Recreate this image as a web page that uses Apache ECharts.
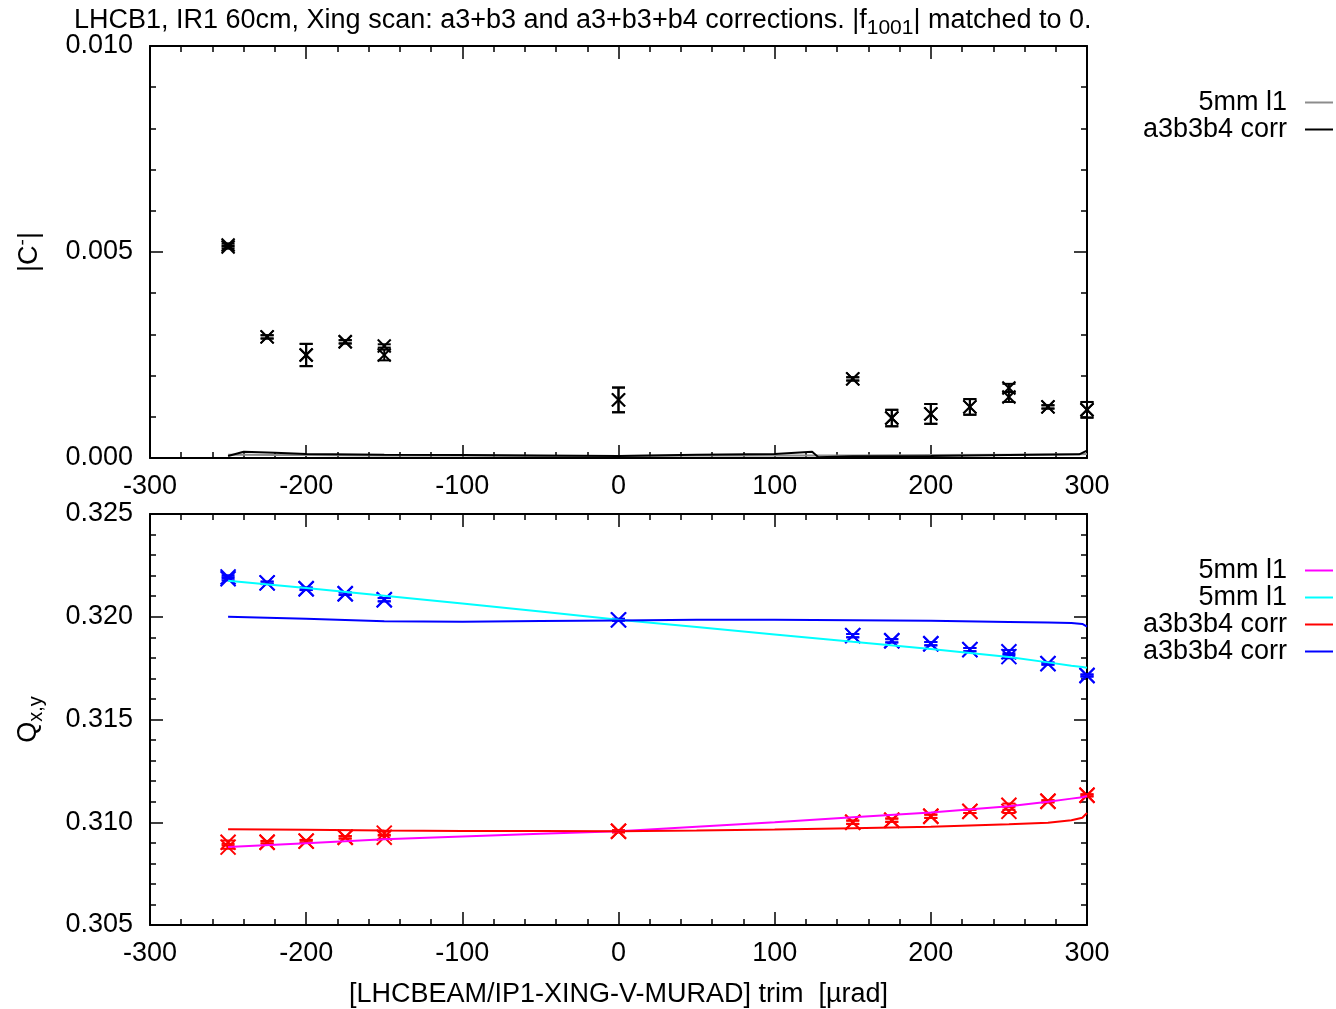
<!DOCTYPE html>
<html>
<head>
<meta charset="utf-8">
<script src="https://cdn.jsdelivr.net/npm/echarts@6/dist/echarts.min.js"></script>
<style>
  html, body { margin: 0; padding: 0; background: #fff; }
  #chart { width: 1336px; height: 1009px; }
</style>
</head>
<body>
<div id="chart"></div>
<script>
// trim values where the coupling / tunes were measured
const trims = [-250, -225, -200, -175, -150, 0, 150, 175, 200, 225, 250, 275, 300];

// |C-| measurements (two overlapping sets) and their errors
const cminA    = [0.00517, 0.00294, 0.00250, 0.00282, 0.00272, 0.00141, 0.00192, 0.00097, 0.00107, 0.00124, 0.00170, 0.00124, 0.00117];
const cminB    = [0.00512, 0.00294, 0.00250, 0.00282, 0.00250, 0.00141, 0.00192, 0.00097, 0.00107, 0.00124, 0.00148, 0.00124, 0.00117];
const cminErrA = [0.00004, 0.00004, 0.00027, 0.00004, 0.00004, 0.00030, 0.00004, 0.00020, 0.00024, 0.00019, 0.00010, 0.00004, 0.00019];
const cminErrB = [0.00004, 0.00004, 0.00027, 0.00004, 0.00013, 0.00030, 0.00004, 0.00020, 0.00024, 0.00019, 0.00012, 0.00004, 0.00019];

// model |C-| curves
const modelX     = [-250, -240, -220, -200, -150, -100, -50, 0, 50, 100, 124, 128, 150, 200, 250, 295, 300];
const cmin5mm    = [0.00008, 0.00008, 0.00007, 0.00007, 0.00006, 0.00006, 0.00005, 0.00005, 0.00006, 0.00006, 0.00006, 0.00006, 0.00006, 0.00007, 0.00008, 0.00009, 0.00010];
const cminCorr   = [0.00005, 0.00015, 0.00013, 0.00010, 0.00008, 0.00007, 0.00006, 0.00005, 0.00008, 0.00010, 0.00015, 0.00002, 0.00004, 0.00005, 0.00007, 0.00009, 0.00018];

// measured tunes (two overlapping sets each)
const qyA = [0.32194, 0.32165, 0.32136, 0.32112, 0.32083, 0.31985, 0.31908, 0.31883, 0.31869, 0.31840, 0.31830, 0.31772, 0.31714];
const qyB = [0.32185, 0.32165, 0.32136, 0.32112, 0.32083, 0.31985, 0.31908, 0.31883, 0.31869, 0.31840, 0.31806, 0.31772, 0.31714];
const qxA = [0.30903, 0.30903, 0.30908, 0.30927, 0.30947, 0.30956, 0.31000, 0.31010, 0.31029, 0.31053, 0.31083, 0.31102, 0.31131];
const qxB = [0.30879, 0.30903, 0.30908, 0.30927, 0.30927, 0.30956, 0.31000, 0.31010, 0.31029, 0.31053, 0.31053, 0.31102, 0.31131];
const qErr = [0.00008, 0.00006, 0.00006, 0.00006, 0.00008, 0.00005, 0.00008, 0.00008, 0.00008, 0.00008, 0.00008, 0.00005, 0.00005];

// model tune curves
const tuneX    = [-250, -200, -150, -100, -50, 0, 50, 100, 150, 200, 250, 275, 290, 297, 300];
const qx5mm    = [0.30879, 0.30898, 0.30917, 0.30931, 0.30944, 0.30956, 0.30978, 0.31000, 0.31024, 0.31047, 0.31078, 0.31100, 0.31115, 0.31122, 0.31128];
const qy5mm    = [0.32175, 0.32140, 0.32102, 0.32064, 0.32025, 0.31985, 0.31950, 0.31914, 0.31878, 0.31843, 0.31804, 0.31778, 0.31762, 0.31755, 0.31752];
const qxCorr   = [0.30966, 0.30963, 0.30960, 0.30958, 0.30957, 0.30956, 0.30960, 0.30965, 0.30971, 0.30978, 0.30990, 0.30998, 0.31010, 0.31022, 0.31045];
const qyCorr   = [0.32000, 0.31990, 0.31978, 0.31976, 0.31979, 0.31982, 0.31985, 0.31985, 0.31983, 0.31980, 0.31975, 0.31972, 0.31970, 0.31965, 0.31952];

const FONT = "'Liberation Sans', Arial, sans-serif";
const FS = 27;
const zip = (xs, ys, es) => xs.map((x, i) => es ? [x, ys[i], es[i]] : [x, ys[i]]);

// x-shaped point with vertical errorbar, gnuplot style
function errPoints(color, s) {
  return function (params, api) {
    const x = api.value(0), y = api.value(1), e = api.value(2);
    const c = api.coord([x, y]);
    const hi = api.coord([x, y + e]);
    const lo = api.coord([x, y - e]);
    const cw = 6.5;
    const st = { stroke: color, lineWidth: 2 };
    const ln = (x1, y1, x2, y2) => ({ type: 'line', shape: { x1, y1, x2, y2 }, style: st });
    return {
      type: 'group',
      children: [
        ln(c[0] - s, c[1] - s, c[0] + s, c[1] + s),
        ln(c[0] - s, c[1] + s, c[0] + s, c[1] - s),
        ln(c[0], hi[1], c[0], lo[1]),
        ln(c[0] - cw, hi[1], c[0] + cw, hi[1]),
        ln(c[0] - cw, lo[1], c[0] + cw, lo[1])
      ]
    };
  };
}

const axisStyle = {
  axisLine: { show: true, onZero: false, lineStyle: { color: '#000', width: 2 } },
  axisTick: { show: true, inside: true, length: 13, lineStyle: { color: '#000', width: 1.5 } },
  minorTick: { show: true, splitNumber: 5, length: 6, lineStyle: { color: '#000', width: 1.5 } },
  splitLine: { show: false }
};

function xAx(grid, pos, labels, extra) {
  return Object.assign({
    type: 'value', gridIndex: grid, position: pos, min: -300, max: 300, interval: 100,
    axisLabel: { show: labels, color: '#000', fontSize: FS, fontFamily: FONT, margin: 15 }
  }, axisStyle, extra || {});
}

function yAx(grid, pos, labels, min, max, extra) {
  return Object.assign({
    type: 'value', gridIndex: grid, position: pos, min: min, max: max, interval: 0.005,
    axisLabel: { show: labels, color: '#000', fontSize: FS, fontFamily: FONT, margin: 17,
      padding: [4, 0, 0, 0], formatter: v => v.toFixed(3) }
  }, axisStyle, extra || {});
}

const legendText = { fontSize: FS, color: '#000', fontFamily: FONT, lineHeight: 27, padding: [0, 13, 0, 0] };

const chart = echarts.init(document.getElementById('chart'));

chart.setOption({
  animation: false,
  backgroundColor: '#fff',
  textStyle: { fontFamily: FONT },
  title: {
    text: 'LHCB1, IR1 60cm, Xing scan: a3+b3 and a3+b3+b4 corrections. |f{sub|1001}| matched to 0.',
    left: 74, top: 6, padding: 0,
    textStyle: {
      fontSize: FS, fontWeight: 'normal', color: '#000', fontFamily: FONT, lineHeight: 30,
      rich: { sub: { fontSize: 21, padding: [14, 0, 0, 0], fontFamily: FONT, color: '#000' } }
    }
  },
  grid: [
    { left: 150, top: 46, width: 937, height: 412 },
    { left: 150, top: 514, width: 937, height: 412 }
  ],
  xAxis: [
    xAx(0, 'bottom', true),
    xAx(0, 'top', false),
    xAx(1, 'bottom', true, {
      name: '[LHCBEAM/IP1-XING-V-MURAD] trim  [\u00b5rad]',
      nameLocation: 'middle', nameGap: 56,
      nameTextStyle: { fontSize: FS, color: '#000', fontFamily: FONT }
    }),
    xAx(1, 'top', false)
  ],
  yAxis: [
    yAx(0, 'left', true, 0, 0.010, {
      name: '|C{s|-}|', nameLocation: 'middle', nameGap: 104, nameRotate: 90,
      nameTextStyle: { fontSize: FS, color: '#000', fontFamily: FONT,
        rich: { s: { fontSize: 19, padding: [0, 0, 14, 0], color: '#000', fontFamily: FONT } } }
    }),
    yAx(0, 'right', false, 0, 0.010),
    yAx(1, 'left', true, 0.305, 0.325, {
      name: 'Q{s|x,y}', nameLocation: 'middle', nameGap: 104, nameRotate: 90,
      nameTextStyle: { fontSize: FS, color: '#000', fontFamily: FONT,
        rich: { s: { fontSize: 20, padding: [14, 0, 0, 0], color: '#000', fontFamily: FONT } } }
    }),
    yAx(1, 'right', false, 0.305, 0.325)
  ],
  legend: [
    {
      data: ['5mm l1', 'a3b3b4 corr'],
      orient: 'vertical', right: 3, top: 89, align: 'right', padding: 0,
      icon: 'rect', itemWidth: 28, itemHeight: 2, itemGap: 0, selectedMode: false,
      textStyle: legendText
    },
    {
      data: ['5mm l1\u200b', '5mm l1\u200b\u200b', 'a3b3b4 corr\u200b', 'a3b3b4 corr\u200b\u200b'],
      orient: 'vertical', right: 3, top: 557, align: 'right', padding: 0,
      icon: 'rect', itemWidth: 28, itemHeight: 2, itemGap: 0, selectedMode: false,
      textStyle: legendText
    }
  ],
  series: [
    // top panel: model curves
    { name: '5mm l1', type: 'line', xAxisIndex: 0, yAxisIndex: 0, data: zip(modelX, cmin5mm),
      showSymbol: false, lineStyle: { color: '#8c8c8c', width: 2 }, itemStyle: { color: '#8c8c8c' } },
    { name: 'a3b3b4 corr', type: 'line', xAxisIndex: 0, yAxisIndex: 0, data: zip(modelX, cminCorr),
      showSymbol: false, lineStyle: { color: '#000', width: 2 }, itemStyle: { color: '#000' } },
    // top panel: measurements
    { type: 'custom', xAxisIndex: 0, yAxisIndex: 0, renderItem: errPoints('#000', 6.5), data: zip(trims, cminA, cminErrA) },
    { type: 'custom', xAxisIndex: 0, yAxisIndex: 0, renderItem: errPoints('#000', 6.5), data: zip(trims, cminB, cminErrB) },

    // bottom panel: model curves
    { name: '5mm l1\u200b', type: 'line', xAxisIndex: 2, yAxisIndex: 2, data: zip(tuneX, qx5mm),
      showSymbol: false, lineStyle: { color: '#ff00ff', width: 2 }, itemStyle: { color: '#ff00ff' } },
    { name: '5mm l1\u200b\u200b', type: 'line', xAxisIndex: 2, yAxisIndex: 2, data: zip(tuneX, qy5mm),
      showSymbol: false, lineStyle: { color: '#00ffff', width: 2 }, itemStyle: { color: '#00ffff' } },
    { name: 'a3b3b4 corr\u200b', type: 'line', xAxisIndex: 2, yAxisIndex: 2, data: zip(tuneX, qxCorr),
      showSymbol: false, lineStyle: { color: '#ff0000', width: 2 }, itemStyle: { color: '#ff0000' } },
    { name: 'a3b3b4 corr\u200b\u200b', type: 'line', xAxisIndex: 2, yAxisIndex: 2, data: zip(tuneX, qyCorr),
      showSymbol: false, lineStyle: { color: '#0000ff', width: 2 }, itemStyle: { color: '#0000ff' } },
    // bottom panel: measurements
    { type: 'custom', xAxisIndex: 2, yAxisIndex: 2, renderItem: errPoints('#0000ff', 7.5), data: zip(trims, qyA, qErr) },
    { type: 'custom', xAxisIndex: 2, yAxisIndex: 2, renderItem: errPoints('#0000ff', 7.5), data: zip(trims, qyB, qErr) },
    { type: 'custom', xAxisIndex: 2, yAxisIndex: 2, renderItem: errPoints('#ff0000', 7.5), data: zip(trims, qxA, qErr) },
    { type: 'custom', xAxisIndex: 2, yAxisIndex: 2, renderItem: errPoints('#ff0000', 7.5), data: zip(trims, qxB, qErr) }
  ]
});
</script>
</body>
</html>
